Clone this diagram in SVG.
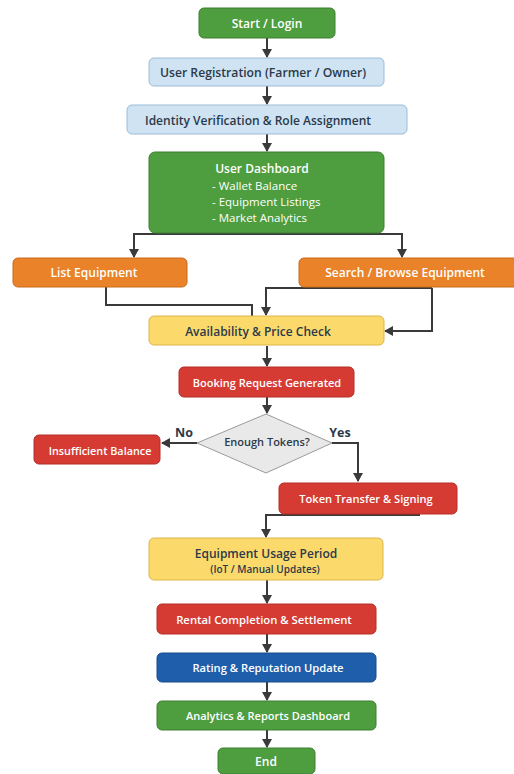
<svg xmlns="http://www.w3.org/2000/svg" width="514" height="774" viewBox="0 0 514 774">
<defs>
<marker id="ah" markerWidth="10" markerHeight="10" refX="8" refY="5" orient="auto" markerUnits="userSpaceOnUse">
<path d="M0,0 L9,5 L0,10 Z" fill="#3a3a3a"/>
</marker>
<style>
.t{font-family:"Open Sans","Liberation Sans",sans-serif;font-weight:600;font-size:12px;text-anchor:middle;dominant-baseline:central}
.w{fill:#ffffff}
.d{fill:#2b3a4a}
.g{fill:#4e9d3e;stroke:#3d7f30;stroke-width:1}
.lb{fill:#cfe3f3;stroke:#9bbcd8;stroke-width:1}
.o{fill:#e98229;stroke:#c96a1c;stroke-width:1}
.y{fill:#fcd96b;stroke:#dcb64c;stroke-width:1}
.r{fill:#d53b33;stroke:#b52e28;stroke-width:1}
.b{fill:#1e5eab;stroke:#174c8c;stroke-width:1}
.c{fill:none;stroke:#3a3a3a;stroke-width:2}
.li{text-anchor:start;font-weight:500;font-size:11.5px}
</style>
</defs>
<rect width="514" height="774" fill="#ffffff"/>
<g id="connectors">
<path class="c" d="M267,38 V57" marker-end="url(#ah)"/>
<path class="c" d="M267,86 V104" marker-end="url(#ah)"/>
<path class="c" d="M267,134 V151" marker-end="url(#ah)"/>
<path class="c" d="M267,233 V234 H134 V257" marker-end="url(#ah)"/>
<path class="c" d="M267,234 H402 V257" marker-end="url(#ah)"/>
<path class="c" d="M106,287 V305 H252 V316"/>
<path class="c" d="M432,288 H266 V315" marker-end="url(#ah)"/>
<path class="c" d="M432,288 V331 H385" marker-end="url(#ah)"/>
<path class="c" d="M267,346 V366" marker-end="url(#ah)"/>
<path class="c" d="M267,397 V413" marker-end="url(#ah)"/>
<path class="c" d="M197,443 H162" marker-end="url(#ah)"/>
<path class="c" d="M332,443 H358 V481" marker-end="url(#ah)"/>
<path class="c" d="M420,515 H266 V537" marker-end="url(#ah)"/>
<path class="c" d="M267,580 V603" marker-end="url(#ah)"/>
<path class="c" d="M267,634 V652" marker-end="url(#ah)"/>
<path class="c" d="M267,682 V700" marker-end="url(#ah)"/>
<path class="c" d="M267,730 V747" marker-end="url(#ah)"/>
</g>
<g id="start"><rect class="g" x="199" y="8" width="136" height="30" rx="5"/><text class="t w" x="267" y="23">Start / Login</text></g>
<g id="registration"><rect class="lb" x="149" y="58" width="235" height="28" rx="5"/><text class="t d" x="263" y="72" style="font-size:12.2px">User Registration (Farmer / Owner)</text></g>
<g id="identity"><rect class="lb" x="127" y="105" width="280" height="29" rx="5"/><text class="t d" x="258" y="120">Identity Verification &amp; Role Assignment</text></g>
<g id="dashboard"><rect class="g" x="149" y="152" width="235" height="81" rx="6"/>
<text class="t w" x="262" y="168">User Dashboard</text>
<text class="t w li" x="212" y="185">- Wallet Balance</text>
<text class="t w li" x="212" y="201">- Equipment Listings</text>
<text class="t w li" x="212" y="217">- Market Analytics</text></g>
<g id="list"><rect class="o" x="13" y="258" width="174" height="29" rx="5"/><text class="t w" x="94" y="272">List Equipment</text></g>
<g id="search"><rect class="o" x="299" y="258" width="220" height="29" rx="5"/><text class="t w" x="405" y="272">Search / Browse Equipment</text></g>
<g id="availability"><rect class="y" x="149" y="316" width="235" height="29" rx="5"/><text class="t d" x="258" y="331">Availability &amp; Price Check</text></g>
<g id="booking"><rect class="r" x="179" y="367" width="175" height="30" rx="5"/><text class="t w" x="267" y="382" style="font-size:11px">Booking Request Generated</text></g>
<g id="decision"><polygon points="266,414 332,443 266,473 197,443" fill="#e9e9e9" stroke="#9a9a9a" stroke-width="1"/><text class="t d" x="267" y="441" style="font-size:11px">Enough Tokens?</text></g>
<g id="labels"><text class="t d" x="184" y="432" style="font-size:12.5px;font-weight:700">No</text><text class="t d" x="340" y="432" style="font-size:12.5px;font-weight:700">Yes</text></g>
<g id="insufficient"><rect class="r" x="34" y="435" width="126" height="29" rx="5"/><text class="t w" x="100" y="450" style="font-size:10.8px">Insufficient Balance</text></g>
<g id="token"><rect class="r" x="279" y="483" width="178" height="31" rx="5"/><text class="t w" x="366" y="498" style="font-size:11.1px">Token Transfer &amp; Signing</text></g>
<g id="usage"><rect class="y" x="149" y="538" width="234" height="42" rx="5"/><text class="t d" x="266" y="553">Equipment Usage Period</text><text class="t d" x="265" y="569" style="font-size:10px">(IoT / Manual Updates)</text></g>
<g id="rental"><rect class="r" x="157" y="604" width="219" height="30" rx="5"/><text class="t w" x="264" y="619" style="font-size:11.3px">Rental Completion &amp; Settlement</text></g>
<g id="rating"><rect class="b" x="157" y="653" width="219" height="29" rx="5"/><text class="t w" x="268" y="667" style="font-size:11.2px">Rating &amp; Reputation Update</text></g>
<g id="analytics"><rect class="g" x="157" y="701" width="219" height="29" rx="5"/><text class="t w" x="268" y="715" style="font-size:11px">Analytics &amp; Reports Dashboard</text></g>
<g id="end"><rect class="g" x="218" y="748" width="97" height="26" rx="5"/><text class="t w" x="266" y="761">End</text></g>
</svg>
